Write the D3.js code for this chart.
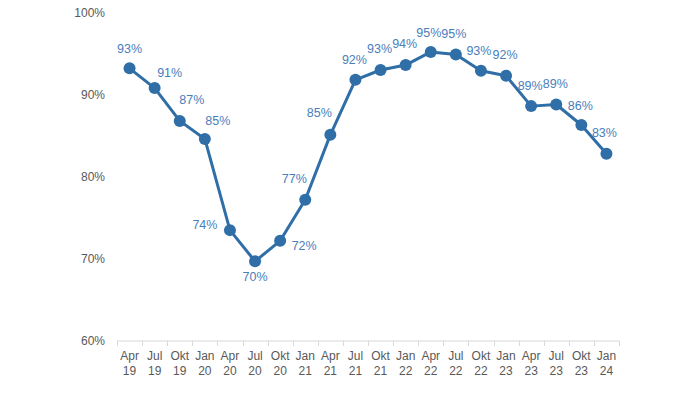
<!DOCTYPE html>
<html>
<head>
<meta charset="utf-8">
<script src="https://d3js.org/d3.v7.min.js"></script>
<style>
  body { margin: 0; background: #fff; }
  svg text { font-family: "Liberation Sans", Arial, sans-serif; }
</style>
</head>
<body>
<div id="chart"></div>
<script>
// Data
const quarters = ["Apr", "Jul", "Okt", "Jan", "Apr", "Jul", "Okt", "Jan", "Apr", "Jul",
                  "Okt", "Jan", "Apr", "Jul", "Okt", "Jan", "Apr", "Jul", "Okt", "Jan"];
const years = ["19", "19", "19", "20", "20", "20", "20", "21", "21", "21",
               "21", "22", "22", "22", "22", "23", "23", "23", "23", "24"];
const values = [93.2, 90.8, 86.8, 84.6, 73.5, 69.7, 72.2, 77.2, 85.1, 91.8,
                93.0, 93.6, 95.2, 94.9, 92.9, 92.3, 88.6, 88.8, 86.3, 82.8];
const yTicks = [60, 70, 80, 90, 100];

// label placement (dx, dy from the point), as in the original
const labelOffsets = [[0,-20],[15,-15],[12,-21],[13,-18],[-25,-6],[0,15],[24,5],[-11,-21],[-11,-22],[-1,-20],
                      [-1,-21],[-1,-21],[-2,-19],[-2,-21],[-2,-20],[-1,-21],[-1,-20],[-1,-21],[-1,-19],[-2,-21]];

const data = values.map((v, i) => ({ key: i, q: quarters[i], y: years[i], v: v }));

const width = 695, height = 395;
const margin = { top: 12.5, right: 76, bottom: 54, left: 117 };

const svg = d3.select("#chart").append("svg")
  .attr("width", width)
  .attr("height", height);

const x = d3.scaleBand()
  .domain(data.map(d => d.key))
  .range([margin.left, width - margin.right]);

const y = d3.scaleLinear()
  .domain([60, 100])
  .range([height - margin.bottom, margin.top]);

// y axis labels
svg.append("g")
  .selectAll("text")
  .data(yTicks)
  .join("text")
  .attr("x", 105)
  .attr("y", d => y(d))
  .attr("dy", "0.35em")
  .attr("text-anchor", "end")
  .style("font-size", "12px")
  .style("fill", "#595959")
  .text(d => d + "%");

// x axis
const xAxis = svg.append("g")
  .attr("transform", `translate(0,${y(60)})`);

xAxis.append("line")
  .attr("x1", x.range()[0])
  .attr("x2", x.range()[1])
  .attr("stroke", "#d9d9d9")
  .attr("stroke-width", 1);

const bounds = x.domain().map(k => x(k)).concat([x.range()[1]]);
xAxis.selectAll(".tick")
  .data(bounds)
  .join("line")
  .attr("class", "tick")
  .attr("x1", d => Math.round(d) + 0.5)
  .attr("x2", d => Math.round(d) + 0.5)
  .attr("y1", 0)
  .attr("y2", 5)
  .attr("stroke", "#d9d9d9");

const xLabels = xAxis.selectAll(".xl")
  .data(data)
  .join("text")
  .attr("class", "xl")
  .attr("text-anchor", "middle")
  .style("font-size", "12px")
  .style("fill", "#595959");

xLabels.append("tspan")
  .attr("x", d => x(d.key) + x.bandwidth() / 2)
  .attr("y", 19)
  .text(d => d.q);
xLabels.append("tspan")
  .attr("x", d => x(d.key) + x.bandwidth() / 2)
  .attr("y", 34)
  .text(d => d.y);

// line
const line = d3.line()
  .x(d => x(d.key) + x.bandwidth() / 2)
  .y(d => y(d.v));

svg.append("path")
  .datum(data)
  .attr("d", line)
  .attr("fill", "none")
  .attr("stroke", "#2f6ea6")
  .attr("stroke-width", 3)
  .attr("stroke-linejoin", "round");

svg.selectAll(".dot")
  .data(data)
  .join("circle")
  .attr("class", "dot")
  .attr("cx", d => x(d.key) + x.bandwidth() / 2)
  .attr("cy", d => y(d.v))
  .attr("r", 6)
  .attr("fill", "#2f6ea6");

// data labels
const fmt = d3.format(".0f");
svg.selectAll(".lbl")
  .data(data)
  .join("text")
  .attr("class", "lbl")
  .attr("x", (d, i) => x(d.key) + x.bandwidth() / 2 + labelOffsets[i][0])
  .attr("y", (d, i) => y(d.v) + labelOffsets[i][1])
  .attr("dy", "0.35em")
  .attr("text-anchor", "middle")
  .style("font-size", "12.5px")
  .style("fill", "#4a7ebb")
  .text(d => fmt(d.v) + "%");
</script>
</body>
</html>
